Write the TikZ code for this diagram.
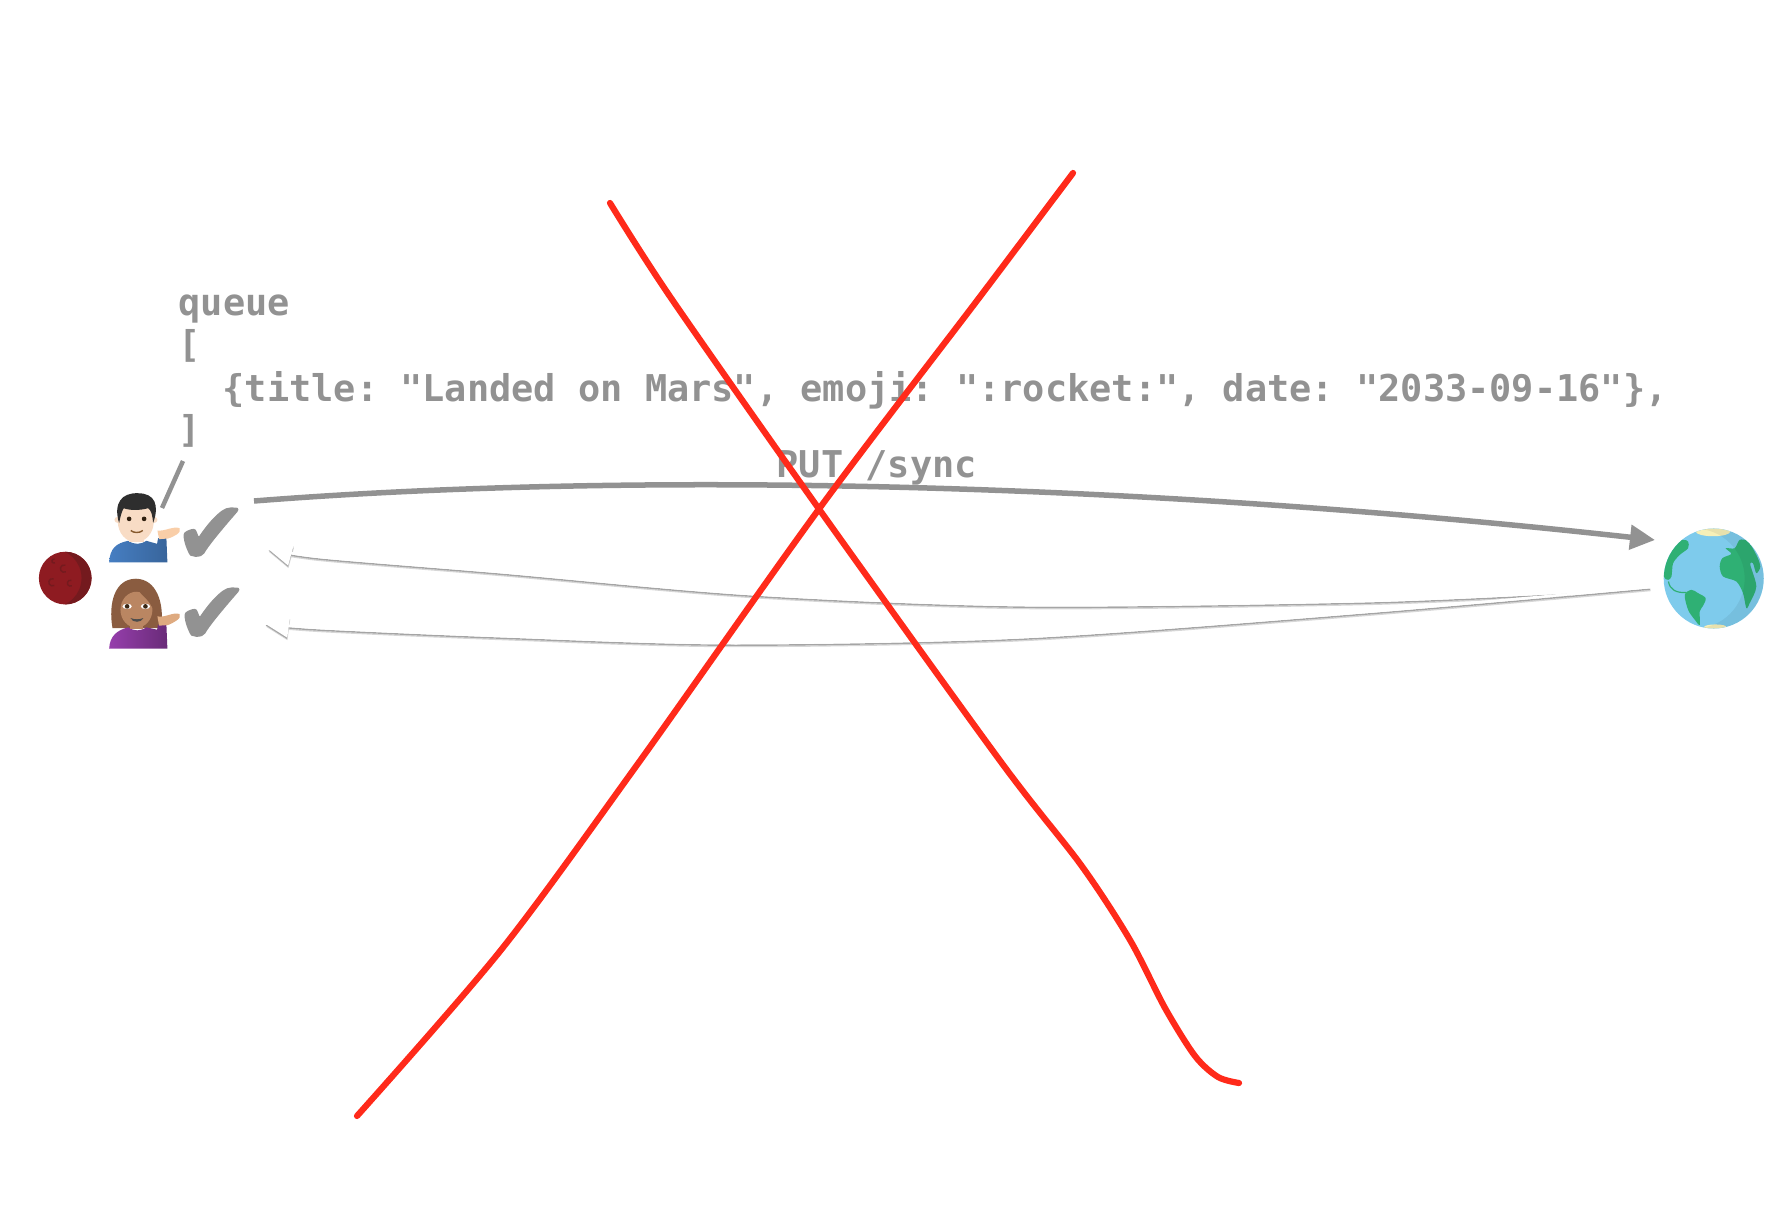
\documentclass[tikz,border=0pt]{standalone}
\usepackage{fontspec}
\usepackage{xcolor}
\usetikzlibrary{arrows.meta}
\setmonofont{DejaVu Sans Mono}
\newfontfamily\checkfont[FakeBold=1.8]{DejaVu Sans}
\definecolor{ink}{RGB}{146, 146, 146}
\definecolor{ghost}{RGB}{165, 165, 165}
\definecolor{cross}{RGB}{255, 42, 26}
\definecolor{mars}{RGB}{142, 27, 33}
\definecolor{marsdark}{RGB}{116, 26, 30}
\definecolor{sea}{RGB}{126, 203, 236}
\definecolor{land}{RGB}{47, 176, 116}
\definecolor{ice}{RGB}{246, 240, 184}
\definecolor{shirtm}{RGB}{70, 126, 194}
\definecolor{shirtw}{RGB}{150, 62, 172}
\definecolor{skinm}{RGB}{248, 220, 197}
\definecolor{skinw}{RGB}{186, 134, 98}
\definecolor{handw}{RGB}{222, 170, 128}
\definecolor{hairw}{RGB}{138, 92, 64}
\tikzset{
    code/.style={anchor=base west, inner sep=0, text=ink, font=\fontsize{10.5}{10.5}\ttfamily\bfseries},
    tick/.style={inner sep=0, text=ink, font=\fontsize{25}{25}\checkfont},
    ghostline/.style={draw=white, line width=0.025cm, -{Triangle[length=0.25cm, width=0.22cm]},
        preaction={draw=ghost!45, transform canvas={shift={(0.006cm, -0.035cm)}}},
        preaction={draw=ghost, transform canvas={shift={(0.002cm, -0.022cm)}}}},
    redline/.style={draw=cross, line width=0.062cm, line cap=round},
    zoomed/.style={x=0.003333cm, y=-0.003333cm},
}
\begin{document}
\begin{tikzpicture}[x=0.01cm, y=-0.01cm]
        \useasboundingbox (0, 0) rectangle (1784, 1228);
        % queue
        \node[code] (queue) at (178, 316) {queue};
        \node[code] (open) at (178, 358) {[};
        \node[code] (item) at (222, 402) {\{title: "Landed on Mars", emoji: ":rocket:", date: "2033-09-16"\},};
        \node[code] (close) at (178, 443) {]};
        \node[code] (put) at (776, 478) {PUT /sync};
        % moon and the two people
        \begin{scope}[shift={(0, 440)}, zoomed]
            \node[circle, fill=mars, minimum size=0.527cm, inner sep=0] (moon) at (196, 415) {};
            \begin{scope}
                \clip (196, 415) circle (79);
                \fill[marsdark, even odd rule] (100, 320) rectangle (290, 510) (157, 415) circle (88);
            \end{scope}
            \draw[marsdark] (198, 396) arc (60:290:11);
            \draw[marsdark] (163, 437) arc (60:290:11);
            \draw[marsdark] (216, 438) arc (60:290:9);
            \draw[marsdark] (165, 369) arc (60:290:6);
            % man
            \shade[left color=shirtm, right color=shirtm!80!black] (328, 368) .. controls (330, 325) and (350, 310) .. (385, 303) .. controls (405, 315) and (420, 315) .. (440, 303) -- (472, 312) -- (475, 295) -- (500, 295) -- (503, 368) -- cycle;
            \fill[skinm] (388, 285) rectangle (432, 308);
            \fill[skinm] (353, 240) circle (9) (464, 240) circle (9);
            \fill[skinm] (408, 245) ellipse (54 and 62);
            \fill[black!82] (358, 250) .. controls (340, 190) and (365, 158) .. (415, 160) .. controls (465, 160) and (480, 195) .. (460, 250) .. controls (458, 225) and (455, 212) .. (445, 205) .. controls (420, 212) and (390, 212) .. (372, 205) .. controls (365, 215) and (362, 230) .. (358, 250) -- cycle;
            \fill[black!75!brown] (388, 237) circle (7) (433, 237) circle (7);
            \draw[brown!70!black] (393, 272) .. controls (402, 280) and (420, 280) .. (429, 272);
            \fill[skinm!85!orange] (473, 272) .. controls (495, 275) and (520, 258) .. (540, 265) .. controls (548, 278) and (520, 292) .. (505, 296) -- (478, 298) -- cycle;
            % woman
            \fill[hairw] (338, 565) .. controls (325, 490) and (345, 417) .. (408, 417) .. controls (470, 417) and (495, 490) .. (484, 565) -- cycle;
            \shade[left color=shirtw, right color=shirtw!70!black] (328, 627) .. controls (330, 590) and (350, 572) .. (385, 563) .. controls (405, 575) and (420, 575) .. (440, 563) -- (472, 570) -- (475, 555) -- (500, 555) -- (503, 627) -- cycle;
            \fill[skinw] (390, 545) rectangle (430, 568);
            \fill[skinw] (410, 510) ellipse (48 and 54);
            \fill[hairw] (362, 505) .. controls (360, 445) and (385, 425) .. (408, 440) .. controls (425, 470) and (445, 475) .. (458, 505) .. controls (465, 470) and (450, 420) .. (408, 417) .. controls (365, 420) and (350, 470) .. (362, 505) -- cycle;
            \fill[white] (382, 500) ellipse (14 and 8) (437, 500) ellipse (14 and 8);
            \fill[black!70!brown] (382, 500) circle (7) (437, 500) circle (7);
            \fill[black!70] (392, 535) .. controls (405, 540) and (418, 540) .. (431, 535) .. controls (425, 550) and (398, 550) .. (392, 535) -- cycle;
            \fill[handw] (473, 530) .. controls (495, 535) and (520, 516) .. (540, 523) .. controls (548, 536) and (520, 550) .. (505, 556) -- (478, 558) -- cycle;
        \end{scope}
        % earth
        \begin{scope}[shift={(1540, 480)}, zoomed]
            \node[circle, fill=sea, minimum size=1cm, inner sep=0] (earth) at (522, 296) {};
            \begin{scope}
                \clip (522, 296) circle (150);
                \fill[land] plot[smooth cycle] coordinates {(445, 185) (445, 205) (420, 225) (400, 250) (395, 290) (385, 300) (372, 290) (375, 240) (400, 190) (430, 180)};
                \draw[land, line width=0.012cm] (386, 305) .. controls (390, 330) and (410, 340) .. (440, 338);
                \fill[land] plot[smooth cycle] coordinates {(435, 345) (455, 330) (475, 340) (498, 355) (490, 378) (480, 395) (480, 435) (465, 420) (445, 390)};
                \fill[land] plot[smooth cycle] coordinates {(558, 205) (585, 205) (600, 180) (625, 185) (650, 225) (662, 260) (650, 280) (640, 250) (632, 255) (650, 320) (630, 370) (620, 385) (610, 340) (590, 305) (550, 290) (540, 260) (548, 235) (575, 222)};
                \fill[ice] (520, 155) ellipse (52 and 14);
                \fill[ice] (527, 442) ellipse (34 and 8);
                \fill[black, opacity=0.06, even odd rule] (360, 130) rectangle (690, 460) (465, 296) circle (150);
            \end{scope}
        \end{scope}
        % ticks
        \node[tick] (tickm) at (211, 536) {✔};
        \node[tick] (tickw) at (212, 616) {✔};
        % connectors
        \coordinate (closeend) at (183, 461);
        \coordinate (manend) at (162, 508);
        \coordinate (sendstart) at (254, 501);
        \coordinate (sendend) at (1655, 540);
        \coordinate (backone) at (1570, 592);
        \coordinate (backtwo) at (1650, 587);
        \coordinate (tipm) at (267, 548);
        \coordinate (tipw) at (264, 623);
        \draw[ink, line width=0.045cm] (closeend) -- (manend);
        \draw[ink, line width=0.055cm, -{Triangle[length=0.25cm, width=0.24cm]}] (sendstart) .. controls (650, 470) and (1150, 484) .. (sendend);
        \draw[ghostline] plot[smooth] coordinates {(backone) (1365, 601) (1024, 605) (751, 594) (500, 572) (320, 557) (tipm)};
        \draw[ghostline] plot[smooth] coordinates {(backtwo) (1365, 612) (1024, 637) (728, 643) (500, 636) (320, 628) (tipw)};
        % the cross
        \draw[redline] plot[smooth] coordinates {(1073, 173) (979, 298) (819, 509) (637, 765) (501, 950) (357, 1116)};
        \draw[redline] plot[smooth] coordinates {(610, 203) (671, 298) (819, 509) (1001, 762) (1081, 865) (1130, 940) (1165, 1008) (1195, 1056) (1218, 1077) (1239, 1083)};
    \end{tikzpicture}
\end{document}
